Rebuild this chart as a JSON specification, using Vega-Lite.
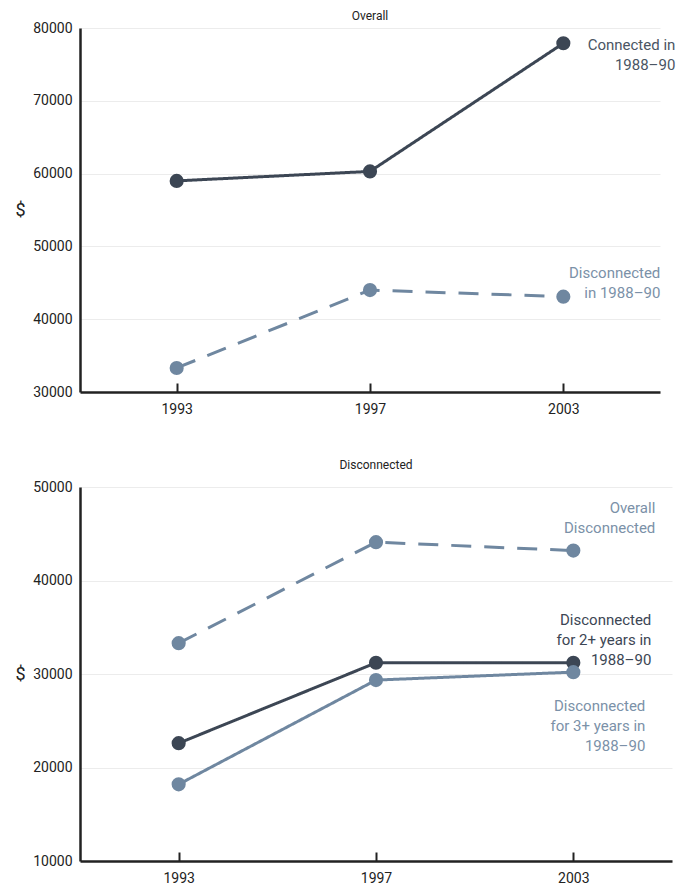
{
  "$schema": "https://vega.github.io/schema/vega-lite/v6.json",
  "padding": {"left": 14, "top": 10, "right": 0, "bottom": 0},
  "background": "white",
  "datasets": {
    "top": [
      {"year": "1993", "value": 59000, "series": "Connected"},
      {"year": "1997", "value": 60300, "series": "Connected"},
      {"year": "2003", "value": 77900, "series": "Connected"},
      {"year": "1993", "value": 33300, "series": "Disconnected"},
      {"year": "1997", "value": 44000, "series": "Disconnected"},
      {"year": "2003", "value": 43100, "series": "Disconnected"}
    ],
    "bottom": [
      {"year": "1993", "value": 33300, "series": "Overall"},
      {"year": "1997", "value": 44100, "series": "Overall"},
      {"year": "2003", "value": 43200, "series": "Overall"},
      {"year": "1993", "value": 22600, "series": "2+ years"},
      {"year": "1997", "value": 31200, "series": "2+ years"},
      {"year": "2003", "value": 31200, "series": "2+ years"},
      {"year": "1993", "value": 18200, "series": "3+ years"},
      {"year": "1997", "value": 29350, "series": "3+ years"},
      {"year": "2003", "value": 30200, "series": "3+ years"}
    ],
    "labels": [
      {"series": "Connected", "year": "2003", "value": 77900, "label": "Connected in\n1988–90"},
      {"series": "Disconnected", "year": "2003", "value": 43100, "label": "Disconnected\nin 1988–90"},
      {"series": "Overall", "year": "2003", "value": 43200, "label": "Overall\nDisconnected"},
      {"series": "2+ years", "year": "2003", "value": 31200, "label": "Disconnected\nfor 2+ years in\n1988–90"},
      {"series": "3+ years", "year": "2003", "value": 30200, "label": "Disconnected\nfor 3+ years in\n1988–90"}
    ]
  },
  "vconcat": [
    {
      "title": {"text": "Overall", "fontSize": 12, "fontWeight": "normal", "color": "#222", "offset": -2, "font": "Roboto"},
      "width": 580,
      "height": 364,
      "encoding": {
        "x": {"field": "year", "type": "ordinal", "scale": {"type": "point", "padding": 0.5}},
        "y": {"field": "value", "type": "quantitative", "scale": {"domain": [30000, 80000], "nice": false, "zero": false}, "axis": {"title": "$", "titleY": 182, "values": [30000, 40000, 50000, 60000, 70000, 80000]}}
      },
      "layer": [
        {
          "data": {"name": "top"},
          "mark": {"type": "line", "strokeWidth": 3},
          "encoding": {
            "color": {"field": "series", "type": "nominal", "scale": {"domain": ["Connected", "Disconnected"], "range": ["#3c4654", "#6f87a0"]}, "legend": null},
            "strokeDash": {"field": "series", "type": "nominal", "scale": {"domain": ["Connected", "Disconnected"], "range": [[1, 0], [20, 13]]}, "legend": null}
          }
        },
        {
          "data": {"name": "top"},
          "mark": {"type": "point", "filled": true, "opacity": 1, "size": 200},
          "encoding": {
            "color": {"field": "series", "type": "nominal", "scale": {"domain": ["Connected", "Disconnected"], "range": ["#3c4654", "#6f87a0"]}, "legend": null}
          }
        },
        {
          "data": {"name": "labels"},
          "transform": [{"filter": "datum.series === 'Connected'"}],
          "mark": {"type": "text", "align": "right", "baseline": "middle", "lineBreak": "\n", "lineHeight": 20, "fontSize": 15, "font": "Roboto", "color": "#4a5563", "dx": 112, "dy": 2},
          "encoding": {"text": {"field": "label"}}
        },
        {
          "data": {"name": "labels"},
          "transform": [{"filter": "datum.series === 'Disconnected'"}],
          "mark": {"type": "text", "align": "right", "baseline": "middle", "lineBreak": "\n", "lineHeight": 20, "fontSize": 15, "font": "Roboto", "color": "#7b91a8", "dx": 97, "dy": -24},
          "encoding": {"text": {"field": "label"}}
        }
      ]
    },
    {
      "title": {"text": "Disconnected", "fontSize": 12, "fontWeight": "normal", "color": "#222", "offset": 8, "font": "Roboto"},
      "width": 592,
      "height": 374,
      "encoding": {
        "x": {"field": "year", "type": "ordinal", "scale": {"type": "point", "padding": 0.5}},
        "y": {"field": "value", "type": "quantitative", "scale": {"domain": [10000, 50000], "nice": false, "zero": false}, "axis": {"title": "$", "titleY": 187, "values": [10000, 20000, 30000, 40000, 50000]}}
      },
      "layer": [
        {
          "data": {"name": "bottom"},
          "mark": {"type": "line", "strokeWidth": 3},
          "encoding": {
            "color": {"field": "series", "type": "nominal", "scale": {"domain": ["Overall", "2+ years", "3+ years"], "range": ["#6f87a0", "#3c4654", "#6f87a0"]}, "legend": null},
            "strokeDash": {"field": "series", "type": "nominal", "scale": {"domain": ["Overall", "2+ years", "3+ years"], "range": [[20, 13], [1, 0], [1, 0]]}, "legend": null}
          }
        },
        {
          "data": {"name": "bottom"},
          "mark": {"type": "point", "filled": true, "opacity": 1, "size": 200},
          "encoding": {
            "color": {"field": "series", "type": "nominal", "scale": {"domain": ["Overall", "2+ years", "3+ years"], "range": ["#6f87a0", "#3c4654", "#6f87a0"]}, "legend": null}
          }
        },
        {
          "data": {"name": "labels"},
          "transform": [{"filter": "datum.series === 'Overall'"}],
          "mark": {"type": "text", "align": "right", "baseline": "middle", "lineBreak": "\n", "lineHeight": 20, "fontSize": 15, "font": "Roboto", "color": "#7b91a8", "dx": 82, "dy": -43},
          "encoding": {"text": {"field": "label"}}
        },
        {
          "data": {"name": "labels"},
          "transform": [{"filter": "datum.series === '2+ years'"}],
          "mark": {"type": "text", "align": "right", "baseline": "middle", "lineBreak": "\n", "lineHeight": 20, "fontSize": 15, "font": "Roboto", "color": "#3c4654", "dx": 78, "dy": -43},
          "encoding": {"text": {"field": "label"}}
        },
        {
          "data": {"name": "labels"},
          "transform": [{"filter": "datum.series === '3+ years'"}],
          "mark": {"type": "text", "align": "right", "baseline": "middle", "lineBreak": "\n", "lineHeight": 20, "fontSize": 15, "font": "Roboto", "color": "#7b91a8", "dx": 72, "dy": 34},
          "encoding": {"text": {"field": "label"}}
        }
      ]
    }
  ],
  "spacing": 43,
  "resolve": {"scale": {"x": "independent", "y": "independent", "color": "independent", "strokeDash": "independent"}},
  "config": {
    "view": {"stroke": null},
    "axisX": {"title": null, "labelAngle": 0, "grid": false, "tickSize": -9, "tickWidth": 2, "tickColor": "#222", "domainColor": "#222", "domainWidth": 2.5, "labelPadding": 19, "labelFontSize": 14, "labelColor": "#222", "labelFont": "Roboto"},
    "axisY": {"ticks": false, "format": "d", "grid": true, "gridColor": "#ececec", "gridWidth": 1, "domainColor": "#222", "domainWidth": 2.5, "labelPadding": 8, "labelFontSize": 14, "labelColor": "#222", "labelFont": "Roboto", "titleAngle": 0, "titleX": -60, "titleAlign": "center", "titleBaseline": "middle", "titleFontSize": 18, "titleFontWeight": "normal", "titleColor": "#222", "titleFont": "Roboto"}
  }
}
